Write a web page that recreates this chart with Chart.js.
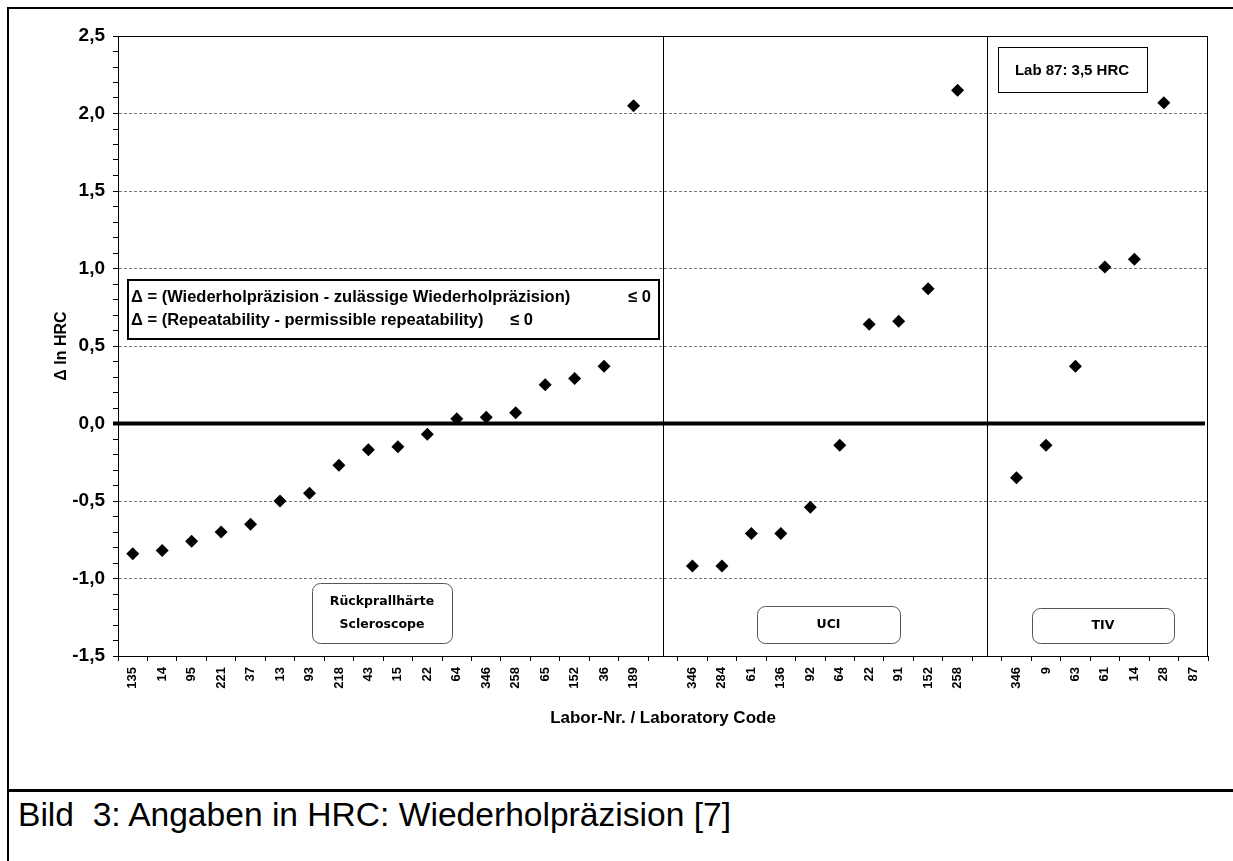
<!DOCTYPE html>
<html>
<head>
<meta charset="utf-8">
<script src="https://cdn.jsdelivr.net/npm/chart.js@4.4.0/dist/chart.umd.min.js"></script>
<style>
html,body{margin:0;padding:0;background:#fff;width:1233px;height:861px;overflow:hidden;}
#wrap{position:absolute;left:0;top:0;width:1233px;height:790px;}
#frameTop{position:absolute;left:7px;top:7px;width:1226px;height:2px;background:#000;}
#frameLeft{position:absolute;left:7px;top:7px;width:2px;height:854px;background:#000;}
#sep{position:absolute;left:7px;top:789px;width:1226px;height:3px;background:#000;}
#caption{position:absolute;left:18px;top:798px;font:33.6px/34px "Liberation Sans",Arial,sans-serif;color:#000;white-space:pre;}
</style>
</head>
<body>
<div id="wrap"><canvas id="c" width="1233" height="790"></canvas></div>
<div id="frameTop"></div>
<div id="frameLeft"></div>
<div id="sep"></div>
<div id="caption">Bild  3: Angaben in HRC: Wiederholpräzision [7]</div>
<script>
// ---- data ----
const scleroscopeLabs = ['135','14','95','221','37','13','93','218','43','15','22','64','346','258','65','152','36','189'];
const scleroscopeVals = [-0.84,-0.82,-0.76,-0.70,-0.65,-0.50,-0.45,-0.27,-0.17,-0.15,-0.07,0.03,0.04,0.07,0.25,0.29,0.37,2.05];
const uciLabs = ['346','284','61','136','92','64','22','91','152','258'];
const uciVals = [-0.92,-0.92,-0.71,-0.71,-0.54,-0.14,0.64,0.66,0.87,2.15];
const tivLabs = ['346','9','63','61','14','28','87'];
const tivVals = [-0.35,-0.14,0.37,1.01,1.06,2.07,3.5];
const yTicksMin = -1.5, yTicksMax = 2.5, yMajorStep = 0.5, yMinorStep = 0.1;

const labels = scleroscopeLabs.concat([''], uciLabs, [''], tivLabs);
const values = scleroscopeVals.concat([null], uciVals, [null], tivVals);

const isMajor = v => Math.abs(v / yMajorStep - Math.round(v / yMajorStep)) < 1e-6;
const fmt = v => v.toFixed(1).replace('.', ',');

const decor = {
  id: 'decor',
  beforeDatasetsDraw(chart) {
    const {ctx, chartArea: a, scales: {x, y}} = chart;
    ctx.save();
    ctx.strokeStyle = '#000';
    ctx.lineWidth = 1;
    labels.forEach((l, i) => {
      if (l === '') {
        const px = Math.round(x.getPixelForValue(i)) + 0.5;
        ctx.beginPath(); ctx.moveTo(px, a.top); ctx.lineTo(px, a.bottom); ctx.stroke();
      }
    });
    ctx.strokeRect(Math.round(a.left) + 0.5, Math.round(a.top) + 0.5, Math.round(a.right - a.left) - 1, Math.round(a.bottom - a.top));
    const y0 = y.getPixelForValue(0);
    ctx.lineWidth = 4;
    ctx.beginPath(); ctx.moveTo(a.left - 5, y0); ctx.lineTo(a.right - 3, y0); ctx.stroke();
    ctx.restore();
  },
  afterDatasetsDraw(chart) {
    const ctx = chart.ctx;
    ctx.save();
    // legend box
    ctx.fillStyle = '#fff'; ctx.fillRect(128, 280, 531, 59);
    ctx.strokeStyle = '#000'; ctx.lineWidth = 2; ctx.strokeRect(128, 280, 531, 59);
    ctx.fillStyle = '#000';
    ctx.font = 'bold 16.5px "Liberation Sans", Arial, sans-serif';
    ctx.textBaseline = 'middle'; ctx.textAlign = 'left';
    ctx.fillText('Δ = (Wiederholpräzision - zulässige Wiederholpräzision)', 131, 297);
    ctx.fillText('≤ 0', 628, 297);
    ctx.fillText('Δ = (Repeatability - permissible repeatability)', 131, 320);
    ctx.fillText('≤ 0', 510, 320);
    // Lab 87 note
    ctx.fillStyle = '#fff'; ctx.fillRect(998, 47, 149, 45);
    ctx.strokeStyle = '#000'; ctx.lineWidth = 1; ctx.strokeRect(998.5, 47.5, 149, 45);
    ctx.fillStyle = '#000';
    ctx.font = 'bold 15px "Liberation Sans", Arial, sans-serif';
    ctx.textAlign = 'center';
    ctx.fillText('Lab 87: 3,5 HRC', 1072, 71);
    // rounded method boxes
    const rbox = (x0, y0, w, h, lines) => {
      ctx.fillStyle = '#fff';
      ctx.strokeStyle = '#555'; ctx.lineWidth = 1;
      ctx.beginPath(); ctx.roundRect(x0 + 0.5, y0 + 0.5, w, h, 8); ctx.fill(); ctx.stroke();
      ctx.fillStyle = '#000';
      ctx.font = 'bold 12.5px "DejaVu Sans", sans-serif';
      ctx.textAlign = 'center';
      const cx = x0 + w / 2, cy = y0 + h / 2, lh = 23;
      lines.forEach((t, k) => ctx.fillText(t, cx, cy + (k - (lines.length - 1) / 2) * lh));
    };
    rbox(312, 583, 140, 60, ['Rückprallhärte', 'Scleroscope']);
    rbox(757, 606, 143, 37, ['UCI']);
    rbox(1032, 608, 142, 35, ['TIV']);
    ctx.restore();
  }
};

new Chart(document.getElementById('c'), {
  type: 'line',
  data: {
    labels: labels,
    datasets: [{
      data: values,
      showLine: false,
      pointStyle: 'rectRot',
      pointRadius: 6.5,
      pointHoverRadius: 6.5,
      pointBackgroundColor: '#000',
      pointBorderColor: '#000',
      pointBorderWidth: 0,
      spanGaps: false
    }]
  },
  options: {
    responsive: false,
    animation: false,
    events: [],
    layout: {padding: {left: 52, top: 36, right: 25, bottom: 61}},
    plugins: {legend: {display: false}, tooltip: {enabled: false}},
    scales: {
      x: {
        type: 'category',
        offset: true,
        afterFit: s => { s.height = 73; },
        grid: {display: true, offset: true, drawOnChartArea: false, drawTicks: true, tickLength: 5, tickColor: '#000', color: '#000'},
        border: {display: true, color: '#000', width: 1},
        ticks: {autoSkip: false, minRotation: 90, maxRotation: 90, padding: 6, color: '#000',
                font: {family: '"Liberation Sans", Arial, sans-serif', size: 13, weight: 'bold'}},
        title: {display: true, text: 'Labor-Nr. / Laboratory Code', color: '#000', padding: 0,
                font: {family: '"Liberation Sans", Arial, sans-serif', size: 17, weight: 'bold'}}
      },
      y: {
        min: yTicksMin, max: yTicksMax,
        afterFit: s => { s.width = 66; },
        afterBuildTicks: s => {
          const t = [];
          for (let k = 0; k <= Math.round((yTicksMax - yTicksMin) / yMinorStep); k++) t.push({value: +(yTicksMin + k * yMinorStep).toFixed(2)});
          s.ticks = t;
        },
        grid: {
          drawOnChartArea: true, drawTicks: true, tickLength: 5, tickColor: '#000',
          color: c => (c.tick && isMajor(c.tick.value) && c.tick.value !== 0 && c.tick.value !== yTicksMin && c.tick.value !== yTicksMax) ? '#777' : 'rgba(0,0,0,0)',
          lineWidth: 1
        },
        border: {display: true, color: '#000', width: 1, dash: [3, 2]},
        ticks: {autoSkip: false, padding: 8, color: '#000',
                callback: v => isMajor(v) ? fmt(v) : '',
                font: {family: '"Liberation Sans", Arial, sans-serif', size: 19, weight: 'bold'}},
        title: {display: true, text: 'Δ ln HRC', color: '#000', padding: 0,
                font: {family: '"Liberation Sans", Arial, sans-serif', size: 16, weight: 'bold'}}
      }
    }
  },
  plugins: [decor]
});
</script>
</body>
</html>
